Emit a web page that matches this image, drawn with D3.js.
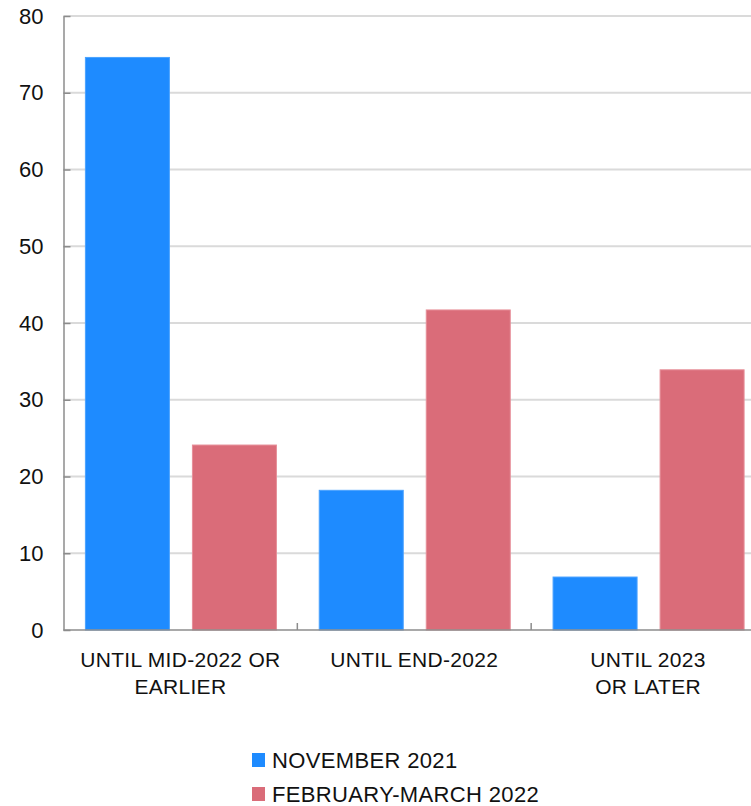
<!DOCTYPE html>
<html>
<head>
<meta charset="utf-8">
<script src="https://cdn.jsdelivr.net/npm/d3@7"></script>
<style>
  html, body { margin: 0; padding: 0; background: #fff; }
  svg { display: block; font-family: "Liberation Sans", Arial, Helvetica, sans-serif; }
</style>
</head>
<body>
<svg id="chart" width="751" height="806"></svg>
<script>
// Survey periods and shares of respondents (percent)
const categories = ["UNTIL MID-2022 OR EARLIER", "UNTIL END-2022", "UNTIL 2023 OR LATER"];
const categoryLines = [["UNTIL MID-2022 OR", "EARLIER"], ["UNTIL END-2022"], ["UNTIL 2023", "OR LATER"]];
const seriesNames = ["NOVEMBER 2021", "FEBRUARY-MARCH 2022"];
const november2021 = [74.6, 18.2, 6.9];
const februaryMarch2022 = [24.1, 41.7, 33.9];
const seriesColors = ["#1e8bff", "#da6c79"];
const seriesEdges = ["#4aa2ff", "#e68f99"];
const yTicks = [0, 10, 20, 30, 40, 50, 60, 70, 80];

const seriesValues = [november2021, februaryMarch2022];

const svg = d3.select("#chart");
const plotLeft = 63.5, plotRight = 765, plotTop = 16, plotBottom = 630;

const x0 = d3.scaleBand().domain(categories).range([plotLeft, plotRight]).padding(0);
const x1 = d3.scaleBand().domain(seriesNames).range([0, x0.bandwidth()])
  .paddingInner(0.215).paddingOuter(0.2);
const y = d3.scaleLinear().domain([0, 80]).range([plotBottom, plotTop]);

// horizontal gridlines
svg.append("g").selectAll("line").data(yTicks.filter(d => d > 0)).join("line")
  .attr("x1", plotLeft).attr("x2", 751)
  .attr("y1", d => y(d)).attr("y2", d => y(d))
  .attr("stroke", "#dadada").attr("stroke-width", 2);

// bars
const groups = svg.append("g").selectAll("g").data(categories).join("g")
  .attr("transform", d => `translate(${x0(d)},0)`);
groups.selectAll("rect")
  .data((c, i) => seriesNames.map((s, k) => ({ s, k, v: seriesValues[k][i] })))
  .join("rect")
  .attr("x", d => x1(d.s) + 0.5)
  .attr("width", x1.bandwidth())
  .attr("y", d => y(d.v))
  .attr("height", d => y(0) - y(d.v))
  .attr("fill", d => seriesColors[d.k])
  .attr("stroke", d => seriesEdges[d.k])
  .attr("stroke-width", 1);

// y axis with inward ticks
const yAxis = svg.append("g").attr("transform", `translate(${plotLeft},0)`)
  .call(d3.axisLeft(y).tickValues(yTicks).tickSize(-7).tickPadding(20).tickSizeOuter(0));
yAxis.select(".domain").attr("stroke", "#8c8c8c").attr("stroke-width", 1.5);
yAxis.selectAll(".tick line").attr("stroke", "#8c8c8c").attr("stroke-width", 1.5);
yAxis.selectAll(".tick text").attr("font-size", 22).attr("fill", "#111")
  .attr("font-family", "'Liberation Sans', Arial, sans-serif");

// x axis baseline and category boundary ticks
svg.append("line").attr("x1", plotLeft).attr("x2", 751)
  .attr("y1", y(0)).attr("y2", y(0))
  .attr("stroke", "#8c8c8c").attr("stroke-width", 1.5);
svg.append("g").selectAll("line").data(categories.slice(0, -1)).join("line")
  .attr("x1", d => x0(d) + x0.bandwidth()).attr("x2", d => x0(d) + x0.bandwidth())
  .attr("y1", y(0)).attr("y2", y(0) - 7)
  .attr("stroke", "#8c8c8c").attr("stroke-width", 1.5);

// category labels
const labels = svg.append("g").selectAll("text").data(categories).join("text")
  .attr("text-anchor", "middle")
  .attr("font-size", 21).attr("letter-spacing", 0.3).attr("fill", "#111")
  .attr("x", d => x0(d) + x0.bandwidth() / 2)
  .attr("y", 667);
labels.each(function (d, i) {
  d3.select(this).selectAll("tspan").data(categoryLines[i]).join("tspan")
    .attr("x", x0(d) + x0.bandwidth() / 2)
    .attr("dy", (t, j) => j === 0 ? 0 : 27)
    .text(t => t);
});

// legend
const legend = svg.append("g").attr("transform", "translate(252,753)");
const items = legend.selectAll("g").data(seriesNames).join("g")
  .attr("transform", (d, i) => `translate(0,${i * 34})`);
items.append("rect").attr("width", 13).attr("height", 14)
  .attr("fill", (d, i) => seriesColors[i]);
items.append("text").attr("x", 20).attr("y", 14.5)
  .attr("font-size", 22).attr("letter-spacing", 0.35).attr("fill", "#111").text(d => d);
</script>
</body>
</html>
